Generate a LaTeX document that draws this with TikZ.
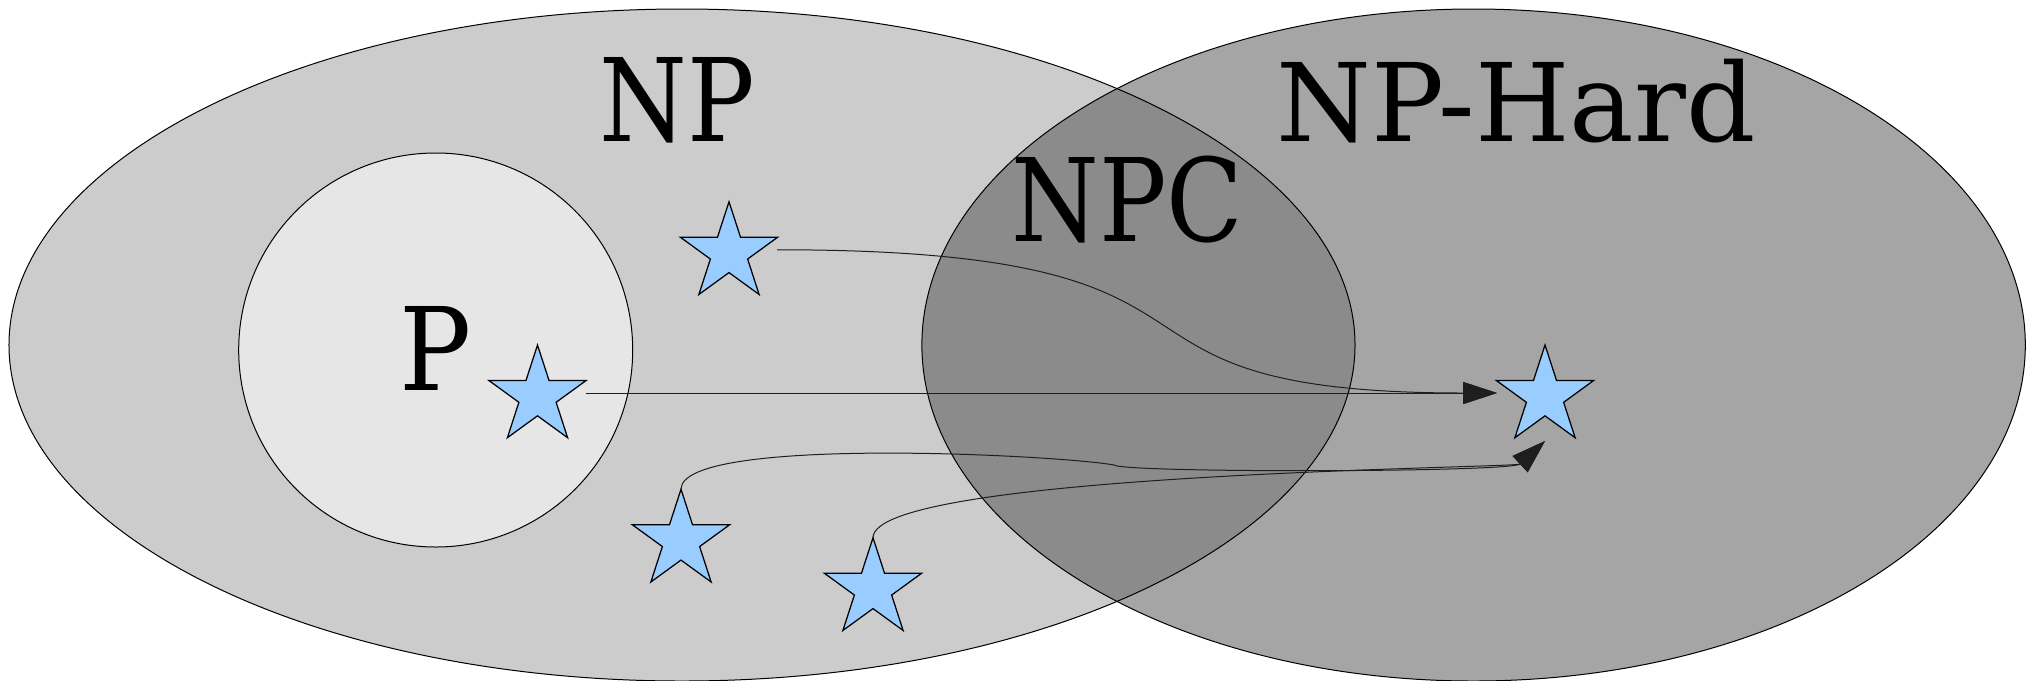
\documentclass[tikz,border=0pt]{standalone}
\usepackage{fontspec}
\setmainfont{DejaVu Serif}
\newfontfamily\condfont{DejaVu Serif}[FakeStretch=0.87]
\newfontfamily\pfont{DejaVu Serif}[FakeStretch=0.93]
\usetikzlibrary{shapes.geometric,arrows.meta,calc}
\definecolor{npgray}{HTML}{CCCCCC}
\definecolor{nphgray}{HTML}{A5A5A5}
\definecolor{npcgray}{HTML}{8B8B8B}
\definecolor{pgray}{HTML}{E6E6E6}
\definecolor{starblue}{HTML}{99CCFF}
\definecolor{conncol}{HTML}{1E1E1E}
\tikzset{
  setoutline/.style={ellipse, draw=black, line width=0.2mm, inner sep=0pt, outer sep=0pt},
  lbl/.style={anchor=base, inner sep=0pt, outer sep=0pt, font=\condfont\fontsize{65.6pt}{70pt}\selectfont},
  lblp/.style={lbl, font=\pfont\fontsize{65.6pt}{70pt}\selectfont},
  lblsmall/.style={lbl, font=\rmfamily\fontsize{61.7pt}{66pt}\selectfont},
  stardot/.style={star, star points=5, star point ratio=2.618, minimum size=20.5mm,
    inner sep=0pt, outer sep=0pt, draw=black, fill=starblue, line width=0.25mm},
  conn/.style={draw=conncol, line width=0.2mm, -{Triangle[length=6.8mm, width=4.4mm]}},
}
\begin{document}
\begin{tikzpicture}[x=0.2mm, y=-0.2mm]
\useasboundingbox (0,0) rectangle (2033,680);
\clip (0,0) rectangle (2033,680);
\fill[white] (0,0) rectangle (2033,680);
% set fills
\fill[npgray] (682,345) ellipse [x radius=134.6mm, y radius=67.2mm];
\fill[nphgray] (1473.6,345) ellipse [x radius=110.34mm, y radius=67.2mm];
\begin{scope}
  \clip (682,345) ellipse [x radius=134.6mm, y radius=67.2mm];
  \fill[npcgray] (1473.6,345) ellipse [x radius=110.34mm, y radius=67.2mm];
\end{scope}
% set outlines
\node[setoutline, minimum width=269.2mm, minimum height=134.4mm] (NPset) at (682,345) {};
\node[setoutline, minimum width=220.68mm, minimum height=134.4mm] (NPHset) at (1473.6,345) {};
\node[circle, draw=black, fill=pgray, line width=0.2mm, minimum size=78.8mm, inner sep=0pt, outer sep=0pt] (Pset) at (435.7,350) {};
% labels
\node[lbl] (npl) at (677.5,141.7) {NP};
\node[lblsmall] (nphl) at (1516,141.7) {NP-Hard};
\node[lbl] (npcl) at (1127.5,241.7) {NPC};
\node[lblp] (pl) at (436,390) {P};
% stars
\node[stardot] (s1) at (729,253) {};
\node[stardot] (s2) at (537.5,396.25) {};
\node[stardot] (s3) at (681,540.5) {};
\node[stardot] (s4) at (873,589) {};
\node[stardot] (s5) at (1545,396.25) {};
% connector end points
\coordinate (s1e) at ($(s1.center)+(48,-3.25)$);
\coordinate (s2e) at ($(s2.center)+(48,-3.25)$);
\coordinate (s5w) at ($(s5.center)+(-48,-3.25)$);
\coordinate (s5s) at ($(s5.center)+(0,44.75)$);
\coordinate (k3) at (1114,465);
% connectors
\draw[conn] (s2e) -- (s5w);
\draw[conn] (s1e) .. controls +(513,0) and +(-447,0) .. (s5w);
\draw[conn] (s3.north) .. controls +(0,-54) and +(-54,-10) .. (k3)
   .. controls +(10,8) and +(-34,31.5) .. (s5s);
\draw[conn] (s4.north) .. controls +(0,-65) and +(-29,27) .. (s5s);
\end{tikzpicture}
\end{document}
